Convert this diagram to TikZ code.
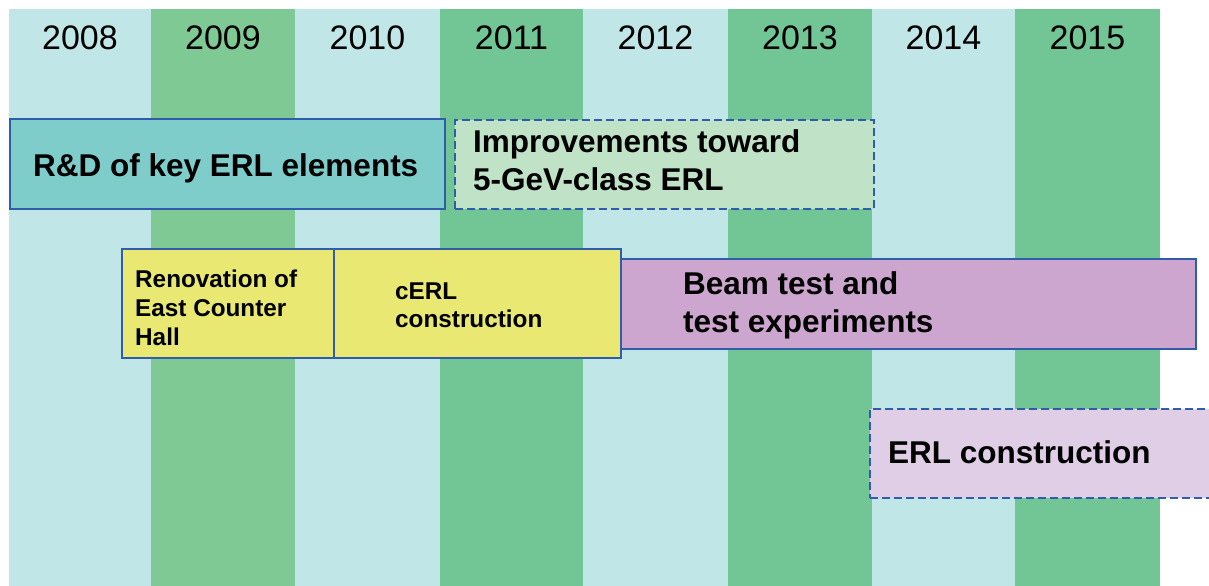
\documentclass[tikz,border=0pt]{standalone}
\usepackage{fontspec}
\setmainfont{Liberation Sans}
\definecolor{colLight}{HTML}{C1E6E7}
\definecolor{colGreenA}{HTML}{7FC994}
\definecolor{colGreenB}{HTML}{72C594}
\definecolor{colTeal}{HTML}{7ECDCB}
\definecolor{colMint}{HTML}{C0E3C8}
\definecolor{colYellow}{HTML}{E8E872}
\definecolor{colPurple}{HTML}{CDA6CF}
\definecolor{colLilac}{HTML}{E0CEE6}
\definecolor{colEdge}{HTML}{2F5DAA}
\tikzset{
  yearlabel/.style={font=\fontsize{34bp}{40bp}\selectfont, anchor=base, inner sep=0pt},
  phase/.style={draw=colEdge, line width=2.2bp, anchor=north west, inner sep=0pt},
  planned/.style={phase, dash pattern=on 8bp off 4bp},
  biglabel/.style={font=\bfseries\fontsize{31.5bp}{38bp}\selectfont, anchor=base west, inner sep=0pt},
  smalllabel/.style={font=\bfseries\fontsize{24.3bp}{29bp}\selectfont, anchor=base west, inner sep=0pt},
}
\begin{document}
\begin{tikzpicture}[x=1bp, y=-1bp]
\useasboundingbox (0,0) rectangle (1209,586);
% year columns
\fill[colLight]  (9,9)    rectangle (151,586);
\fill[colGreenA] (151,9)  rectangle (295,586);
\fill[colLight]  (295,9)  rectangle (440,586);
\fill[colGreenB] (440,9)  rectangle (583,586);
\fill[colLight]  (583,9)  rectangle (728,586);
\fill[colGreenB] (728,9)  rectangle (872,586);
\fill[colLight]  (872,9)  rectangle (1015,586);
\fill[colGreenB] (1015,9) rectangle (1160,586);
% year labels
\node[yearlabel] (y2008) at (80,50)     {2008};
\node[yearlabel] (y2009) at (223,50)    {2009};
\node[yearlabel] (y2010) at (367.5,50)  {2010};
\node[yearlabel] (y2011) at (511.5,50)  {2011};
\node[yearlabel] (y2012) at (655.5,50)  {2012};
\node[yearlabel] (y2013) at (800,50)    {2013};
\node[yearlabel] (y2014) at (943.5,50)  {2014};
\node[yearlabel] (y2015) at (1087.5,50) {2015};
% phases
\node[phase, fill=colTeal, minimum width=435bp, minimum height=90bp] (rd) at (9,118) {};
\node[biglabel] (rdA) at (33,177) {R\&D of key ERL elements};

\node[planned, fill=colMint, minimum width=419bp, minimum height=89bp] (imp) at (454,119) {};
\node[biglabel] (impA) at (473,153) {Improvements toward};
\node[biglabel] (impB) at (473,191) {5-GeV-class ERL};

\node[phase, fill=colYellow, minimum width=212bp, minimum height=109bp] (ren) at (121,248) {};
\node[smalllabel] (renA) at (135,288) {Renovation of};
\node[smalllabel] (renB) at (135,317) {East Counter};
\node[smalllabel] (renC) at (135,346) {Hall};

\node[phase, fill=colYellow, minimum width=287bp, minimum height=109bp] (cerl) at (333,248) {};
\node[smalllabel] (cerlA) at (395,300) {cERL};
\node[smalllabel] (cerlB) at (395,328) {construction};

\node[phase, fill=colPurple, minimum width=575bp, minimum height=90bp] (beam) at (620,258) {};
\node[biglabel] (beamA) at (683,295) {Beam test and};
\node[biglabel] (beamB) at (683,333) {test experiments};

\begin{scope}
\clip (0,0) rectangle (1209,586);
\node[planned, fill=colLilac, minimum width=345bp, minimum height=89bp] (erl) at (869,408) {};
\end{scope}
\node[biglabel] (erlA) at (888,463) {ERL construction};
\end{tikzpicture}
\end{document}
